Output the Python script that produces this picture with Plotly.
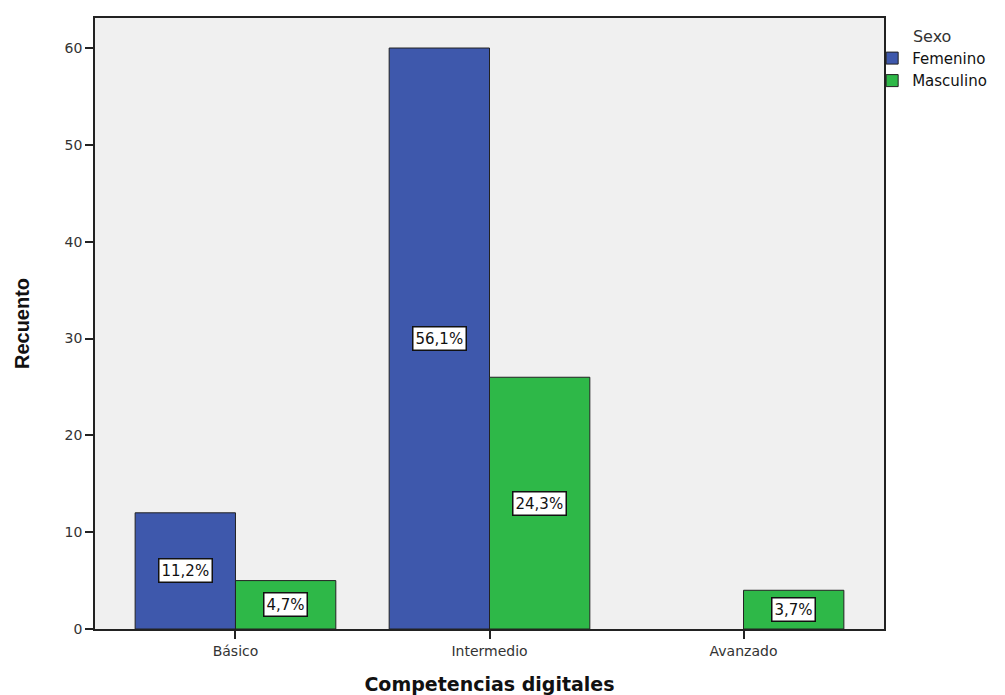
import plotly.graph_objects as go

categories = ["Básico", "Intermedio", "Avanzado"]
femenino = [12, 60, 0]
masculino = [5, 26, 4]
fem_pct = ["11,2%", "56,1%", None]
mas_pct = ["4,7%", "24,3%", "3,7%"]

BLUE = "#3E58AC"
GREEN = "#2EB848"
FONT = "DejaVu Sans, Verdana, sans-serif"
BOLD = "Liberation Sans, Arial, sans-serif"


def outline(vals):
    return [1 if v > 0 else 0 for v in vals]


fig = go.Figure()
fig.add_trace(go.Bar(x=categories, y=femenino, name="Femenino",
                     marker=dict(color=BLUE, line=dict(color="#222222", width=outline(femenino)))))
fig.add_trace(go.Bar(x=categories, y=masculino, name="Masculino",
                     marker=dict(color=GREEN, line=dict(color="#222222", width=outline(masculino)))))

annotations = []
for series, pcts, shift in ((femenino, fem_pct, -50), (masculino, mas_pct, 50)):
    for cat, v, p in zip(categories, series, pcts):
        if p is None:
            continue
        annotations.append(dict(x=cat, y=v / 2, xref="x", yref="y", text=p,
                                showarrow=False, xshift=shift,
                                font=dict(family=FONT, size=15, color="#111111"),
                                bgcolor="white", bordercolor="#111111", borderwidth=1.5,
                                borderpad=2))

fig.update_layout(
    width=1005, height=695,
    margin=dict(l=95, r=121, t=18, b=66),
    paper_bgcolor="white", plot_bgcolor="#F0F0F0",
    barmode="group", bargap=0.21, bargroupgap=0,
    font=dict(family=FONT, size=14, color="#333333"),
    legend=dict(x=0.985, y=0.995, xanchor="left", yanchor="top",
                title=dict(text="Sexo", font=dict(family=FONT, size=16, color="#333333"),
                           side="top center"),
                font=dict(family=FONT, size=15, color="#111111"), tracegroupgap=0,
                itemwidth=30, bgcolor="rgba(0,0,0,0)"),
    annotations=annotations,
    showlegend=True,
)
fig.update_xaxes(range=[-0.553, 2.553], showline=True, linecolor="#222222", linewidth=1.5,
                 mirror=True, ticks="outside", ticklen=8, tickcolor="#222222", tickwidth=1.5,
                 tickfont=dict(family=FONT, size=14, color="#333333"), automargin=False,
                 title=dict(text="<b>Competencias digitales</b>",
                            font=dict(family=FONT, size=19, color="#111111"),
                            standoff=20),
                 showgrid=False, zeroline=False)
fig.update_yaxes(range=[0, 63.1], dtick=10, showline=True, linecolor="#222222", linewidth=1.5,
                 mirror=True, ticks="outside", ticklen=8, tickcolor="#222222", tickwidth=1.5,
                 tickfont=dict(family=FONT, size=14, color="#333333"), automargin=False,
                 title=dict(text="<b>Recuento</b>", font=dict(family=BOLD, size=20, color="#111111"),
                            standoff=30),
                 showgrid=False, zeroline=False)

fig.write_html("out.html")
